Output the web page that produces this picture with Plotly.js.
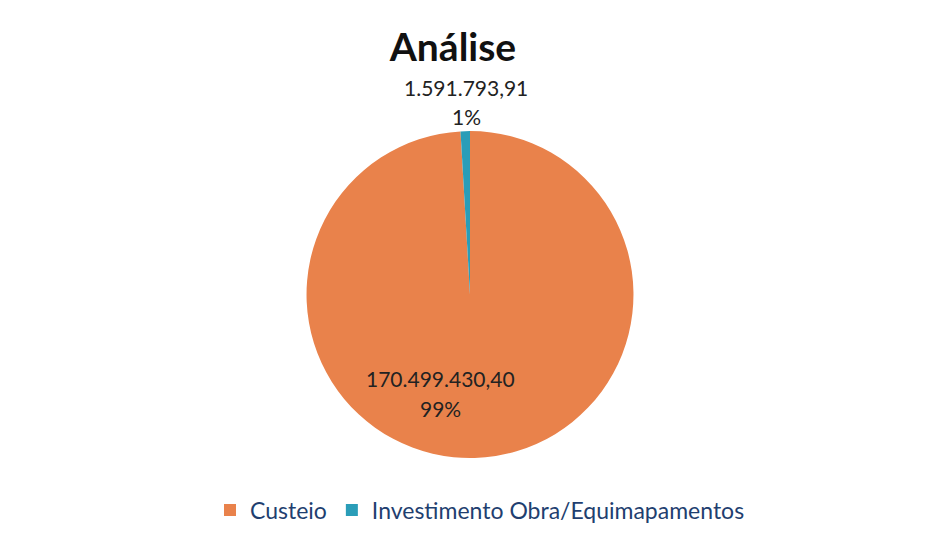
<!DOCTYPE html>
<html>
<head>
<meta charset="utf-8">
<script src="https://cdn.plot.ly/plotly-3.0.1.min.js"></script>
<style>html,body{margin:0;padding:0;background:#fff;}#chart{width:940px;height:544px;}</style>
</head>
<body>
<div id="chart"></div>
<script>
const categories = ["Custeio", "Investimento Obra/Equimapamentos"];
const values = [170499430.40, 1591793.91];
const colors = ["#E9824B", "#2A9DB8"];

function fmtBR(v) {
  const parts = v.toFixed(2).split(".");
  const intPart = parts[0].replace(/\B(?=(\d{3})+(?!\d))/g, ".");
  return intPart + "," + parts[1];
}
const total = values.reduce((a, b) => a + b, 0);
const pcts = values.map(v => Math.round(v / total * 100) + "%");

const trace = {
  type: "pie",
  labels: categories,
  values: values,
  marker: { colors: colors, line: { width: 0 } },
  sort: false,
  direction: "clockwise",
  rotation: 0,
  textinfo: "none",
  hoverinfo: "none",
  domain: { x: [0.3, 0.7], y: [0.158, 0.759] }
};

const labelFont = { family: "Lato, 'Open Sans', sans-serif", size: 21, color: "#222222" };
function ann(text, px, py) {
  return { text: text, x: px / 940, y: 1 - py / 544, xref: "paper", yref: "paper",
    xanchor: "center", yanchor: "middle", showarrow: false, font: labelFont };
}
const layout = {
  width: 940, height: 544,
  margin: { l: 0, r: 0, t: 0, b: 0 },
  paper_bgcolor: "#ffffff",
  title: {
    text: "<b>Análise</b>",
    font: { family: "Lato, 'Open Sans', sans-serif", size: 39, color: "#111111" },
    x: 453 / 940, xanchor: "center", y: 1 - 47 / 544, yanchor: "middle"
  },
  showlegend: true,
  legend: {
    orientation: "h", x: 0.5 + 10 / 940, xanchor: "center", y: 1 - 510 / 544, yanchor: "middle",
    font: { family: "Lato, 'Open Sans', sans-serif", size: 23, color: "#1F3F70" },
    itemsizing: "constant", traceorder: "normal", itemwidth: 30
  },
  annotations: [
    ann(fmtBR(values[1]), 466, 87),
    ann(pcts[1], 466, 116),
    ann(fmtBR(values[0]), 440, 378),
    ann(pcts[0], 440, 408)
  ]
};

Plotly.newPlot("chart", [trace], layout, { displayModeBar: false, staticPlot: true });
</script>
</body>
</html>
